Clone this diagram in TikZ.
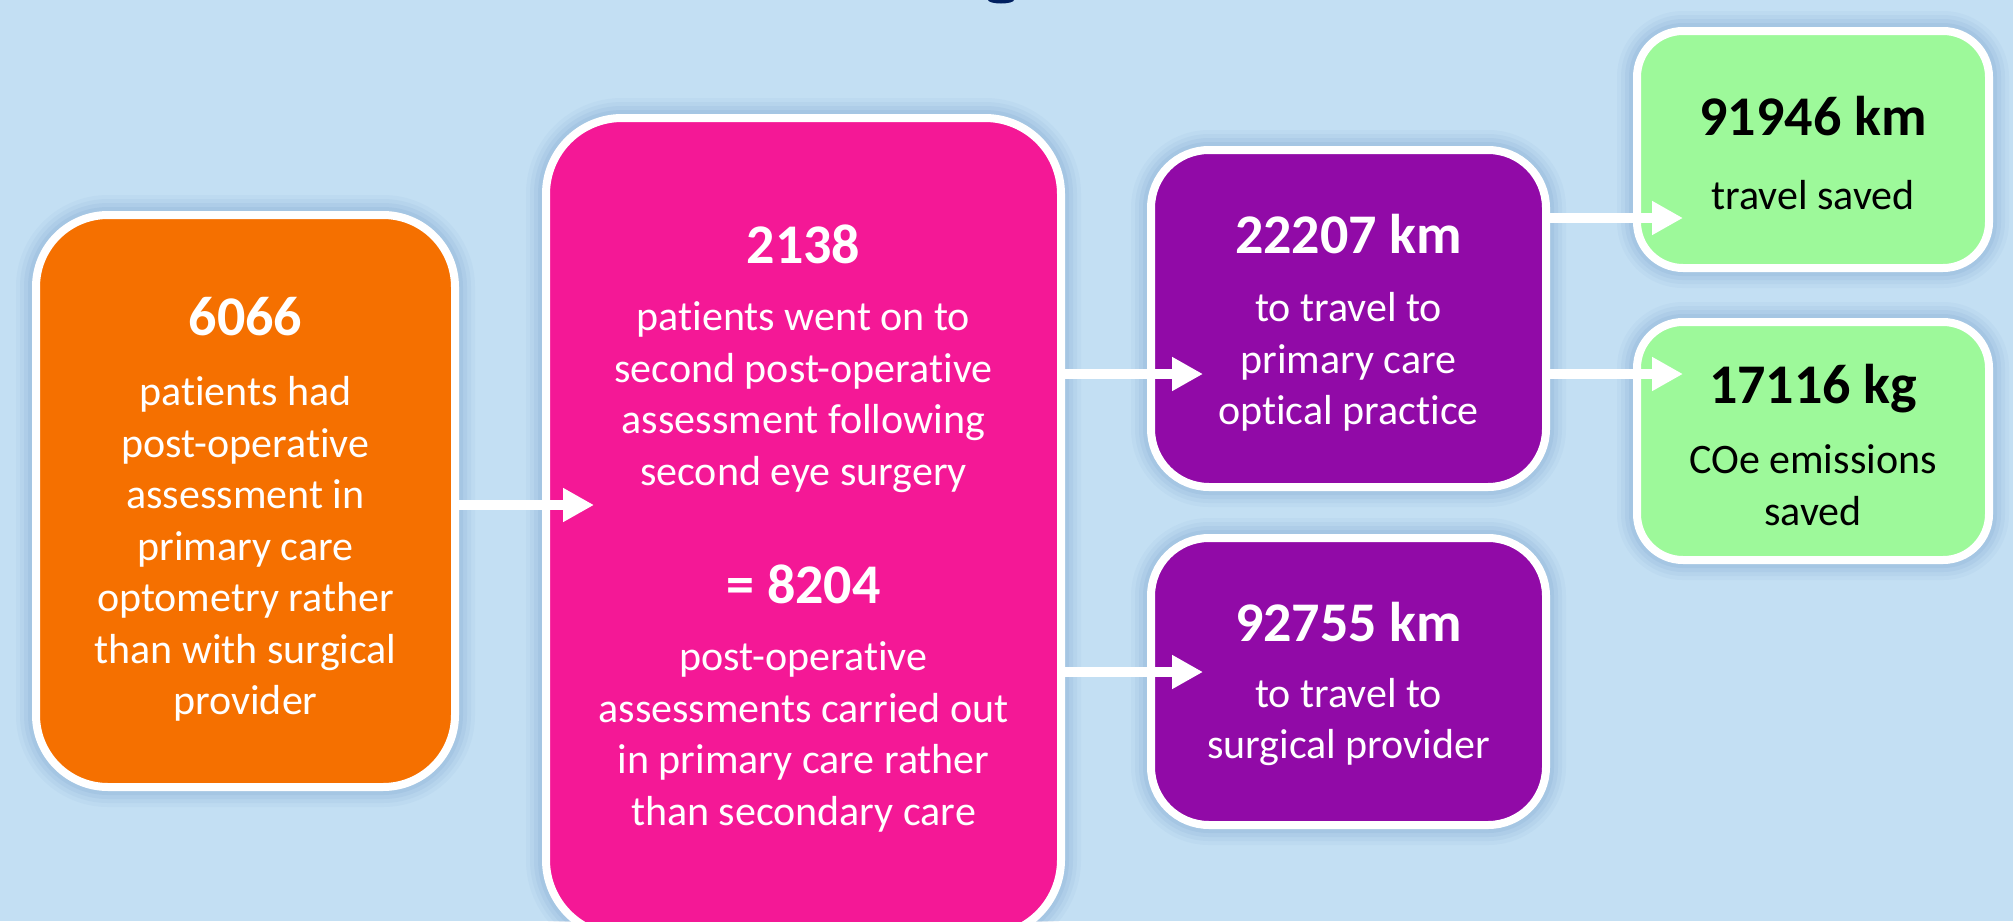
\documentclass[tikz,border=0pt]{standalone}
\usepackage{fontspec}
\setmainfont{Carlito}[Ligatures={NoCommon}, Contextuals={NoAlternate}]
\usetikzlibrary{arrows.meta}
\definecolor{bgc}{HTML}{C3DFF3}
\definecolor{orangec}{HTML}{F57000}
\definecolor{pinkc}{HTML}{F41896}
\definecolor{purplec}{HTML}{910AA7}
\definecolor{greenc}{HTML}{9DF99A}
\definecolor{shadowc}{HTML}{5F8DC0}
\definecolor{titlec}{HTML}{002060}
\begin{document}
\begin{tikzpicture}[x=1pt,y=-1pt,
  box/.style={rectangle, draw=white, line width=8pt, inner sep=0pt, rounded corners=#1,
    preaction={draw=shadowc, line width=40pt, draw opacity=0.06},
    preaction={draw=shadowc, line width=32pt, draw opacity=0.07},
    preaction={draw=shadowc, line width=24pt, draw opacity=0.09},
    preaction={draw=shadowc, line width=16pt, draw opacity=0.10}},
  ttl/.style={font=\fontsize{56}{60}\selectfont\bfseries, inner sep=0pt, text height=35pt, text depth=0pt},
  bod/.style={align=center, font=\fontsize{42}{51.5}\selectfont, inner sep=0pt},
  arr/.style={draw=white, line width=10pt, -{Triangle[length=31pt,width=32pt]}}
]
\useasboundingbox (0,0) rectangle (2013,921);
\fill[bgc] (0,0) rectangle (2013,921);
% partial title glyph at the top edge
\fill[titlec] (1001,0) ellipse (13 and 3.5);

% boxes
\node[box=72pt, fill=orangec, minimum width=419pt, minimum height=572pt] (orange) at (245.5,501) {};
\node[box=76pt, fill=pinkc, minimum width=515pt, minimum height=818pt] (pink) at (803.5,527) {};
\node[box=58pt, fill=purplec, minimum width=395pt, minimum height=337pt] (purpleA) at (1348.5,318.5) {};
\node[box=58pt, fill=purplec, minimum width=395pt, minimum height=287pt] (purpleB) at (1348.5,681.5) {};
\node[box=46pt, fill=greenc, minimum width=352pt, minimum height=237pt] (greenA) at (1813,149.5) {};
\node[box=46pt, fill=greenc, minimum width=352pt, minimum height=238pt] (greenB) at (1813,441) {};

% arrows
\draw[arr, shorten >=-52pt] (orange.east |- 0,505) -- (pink.west |- 0,505);
\draw[arr, shorten >=-56pt] (pink.east |- 0,374) -- (purpleA.west |- 0,374);
\draw[arr, shorten >=-56pt] (pink.east |- 0,672) -- (purpleB.west |- 0,672);
\draw[arr, shorten >=-50pt] (purpleA.east |- 0,218) -- (greenA.west |- 0,218);
\draw[arr, shorten >=-50pt] (purpleA.east |- 0,374) -- (greenB.west |- 0,374);

% texts
\node[ttl, text=white] (t1) at (245.5,318) {6066};
\node[bod, text=white] (b1) at (245.5,549) {patients had\\post-operative\\assessment in\\primary care\\optometry rather\\than with surgical\\provider};

\node[ttl, text=white] (t2) at (803.5,246) {2138};
\node[bod, text=white] (b2) at (803.5,397) {patients went on to\\second post-operative\\assessment following\\second eye surgery};
\node[ttl, text=white] (t3) at (803.5,586) {= 8204};
\node[bod, text=white] (b3) at (803.5,737) {post-operative\\assessments carried out\\in primary care rather\\than secondary care};

\node[ttl, text=white] (t4) at (1348.5,236) {22207 km};
\node[bod, text=white] (b4) at (1348.5,362) {to travel to\\primary care\\optical practice};
\node[ttl, text=white] (t5) at (1348.5,624) {92755 km};
\node[bod, text=white] (b5) at (1348.5,722) {to travel to\\surgical provider};

\node[ttl, text=black] (t6) at (1813,118) {91946 km};
\node[bod, text=black] (b6) at (1813,195) {travel saved};
\node[ttl, text=black] (t7) at (1813,386) {17116 kg};
\node[bod, text=black] (b7) at (1813,485) {COe emissions\\saved};
\end{tikzpicture}
\end{document}
